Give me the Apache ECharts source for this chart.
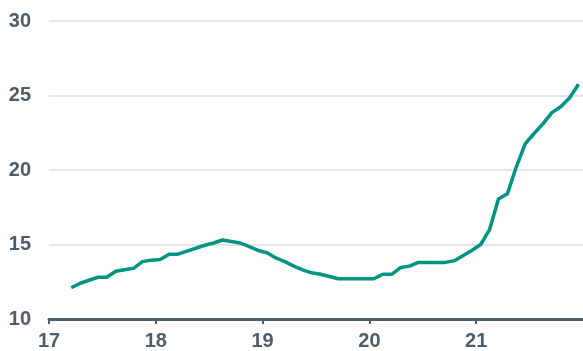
<!DOCTYPE html>
<html>
<head>
<meta charset="utf-8">
<script src="https://cdn.jsdelivr.net/npm/echarts@6/dist/echarts.min.js"></script>
<style>
html,body{margin:0;padding:0;background:#fff;}
#chart{width:583px;height:351px;}
</style>
</head>
<body>
<div id="chart"></div>
<script>
// Monthly observations, March 2017 to December 2021
var startYear = 2017, startMonth = 3;
var values = [
  12.1, 12.4, 12.6, 12.8, 12.8, 13.2, 13.3, 13.4, 13.85, 13.95,
  14.0, 14.35, 14.35, 14.55, 14.75, 14.95, 15.1, 15.3, 15.2, 15.1, 14.85, 14.6,
  14.45, 14.1, 13.85, 13.55, 13.3, 13.1, 13.0, 12.85, 12.7, 12.7, 12.7, 12.7,
  12.7, 13.0, 13.0, 13.45, 13.55, 13.8, 13.8, 13.8, 13.8, 13.9, 14.25, 14.6,
  15.0, 16.0, 18.05, 18.4, 20.2, 21.75, 22.45, 23.1, 23.85, 24.25, 24.85, 25.75
];
var yTicks = [10, 15, 20, 25, 30];
var xTickYears = [2017, 2018, 2019, 2020, 2021];

var seriesData = values.map(function (v, i) {
  var m = startMonth - 1 + i;           // months since Jan of startYear
  var t = startYear + (m + 0.5) / 12;    // mid-month position
  return [t, v];
});

var axisColor = '#4f5d68';
var chart = echarts.init(document.getElementById('chart'), null, {renderer: 'canvas'});
chart.setOption({
  animation: false,
  grid: {left: 49, right: 0, top: 21, bottom: 31, containLabel: false},
  xAxis: {
    type: 'value',
    min: xTickYears[0],
    max: xTickYears[xTickYears.length - 1] + 1,
    interval: 1,
    splitLine: {show: false},
    axisLine: {show: true, onZero: false, lineStyle: {color: axisColor, width: 3}},
    axisTick: {show: true, length: 5, lineStyle: {color: axisColor, width: 2}},
    axisLabel: {
      showMaxLabel: false,
      margin: 12,
      color: axisColor,
      fontFamily: 'Liberation Sans, Arial, sans-serif',
      fontWeight: 'bold',
      fontSize: 20,
      formatter: function (v) { return String(v).slice(2); }
    }
  },
  yAxis: {
    type: 'value',
    min: yTicks[0],
    max: yTicks[yTicks.length - 1],
    interval: 5,
    axisLine: {show: false},
    axisTick: {show: false},
    splitLine: {show: true, lineStyle: {color: '#dcdcdc', width: 1.5}},
    axisLabel: {
      margin: 18,
      color: axisColor,
      fontFamily: 'Liberation Sans, Arial, sans-serif',
      fontWeight: 'bold',
      fontSize: 20
    }
  },
  series: [{
    type: 'line',
    data: seriesData,
    showSymbol: false,
    symbol: 'none',
    smooth: false,
    lineStyle: {color: '#009580', width: 3.5},
    z: 3
  }]
});
</script>
</body>
</html>
